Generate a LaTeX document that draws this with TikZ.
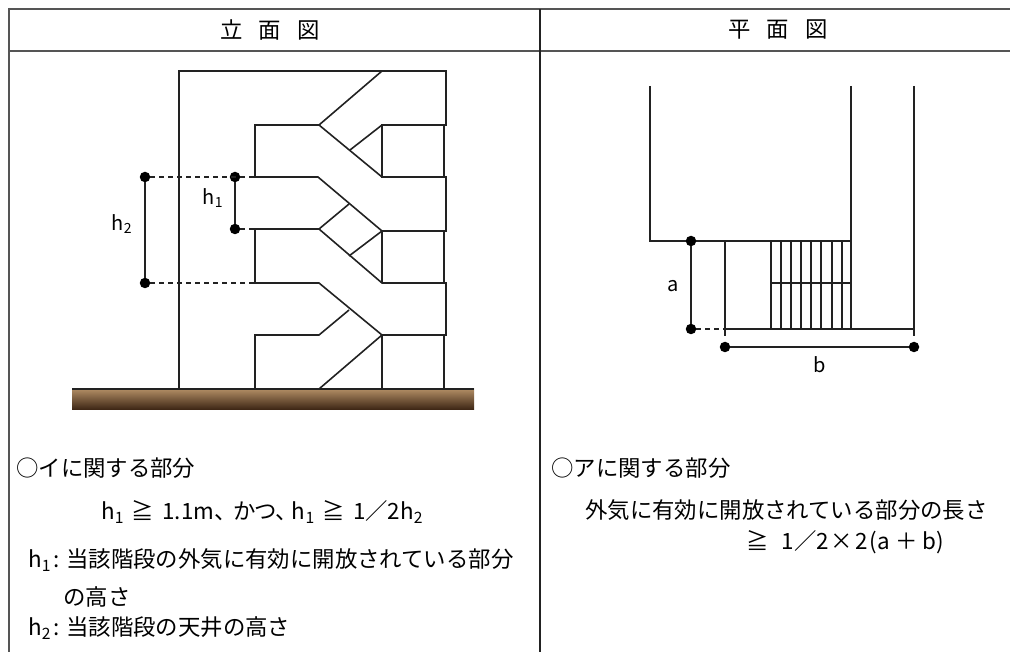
\documentclass[tikz,border=0pt]{standalone}
\usepackage{fontspec}
\setmainfont{Noto Sans CJK JP}
\usetikzlibrary{positioning,calc}
\definecolor{rulegrey}{HTML}{555555}
\definecolor{inkline}{HTML}{222222}
\definecolor{soiltop}{HTML}{B08C64}
\definecolor{soilbot}{HTML}{3A2312}
\tikzset{
  rule/.style={draw=rulegrey,line width=2.4pt},
  wall/.style={draw=inkline,line width=1.6pt},
  dim/.style={draw=inkline,line width=1.6pt},
  dimdash/.style={draw=inkline,line width=1.3pt,dash pattern=on 5pt off 4pt},
  dot/.style={circle,fill=black,inner sep=0pt,minimum size=10.5pt},
  txt/.style={inner sep=0pt,text=black,font=\fontsize{22.4}{26}\selectfont},
  lbl/.style={txt,font=\fontsize{20}{24}\selectfont},
}
\begin{document}
\begin{tikzpicture}[x=1pt,y=-1pt]
 \useasboundingbox (0,0) rectangle (1010,652);
 % table
 \draw[rule] (9,9)--(1010,9);
 \draw[rule] (9,51)--(1010,51);
 \draw[rule] (9,8)--(9,652);
 \draw[wall] (540,9)--(540,652);
 \node[txt] (headl) at (270,30) {立\hspace{16pt}面\hspace{16pt}図};
 \node[txt] (headr) at (778,30) {平\hspace{16pt}面\hspace{16pt}図};
 % ground
 \fill[top color=soiltop,bottom color=soilbot] (72,389) rectangle (474,410);
 \draw[wall] (72,389)--(474,389);
 % elevation
 \draw[wall] (179,389)--(179,71)--(446,71)--(446,125)--(382,125)--(382,177)--(444,177)--(444,125);
 \draw[wall] (382,71)--(319,125)--(255,125)--(255,177)--(318,177)--(382,231)--(446,231)--(446,177)--(444,177);
 \draw[wall] (319,125)--(382,177);
 \draw[wall] (382,125)--(350,150);
 \draw[wall] (349,204)--(319,229)--(255,229)--(255,283)--(319,283)--(382,335)--(446,335)--(446,283)--(382,283)--(319,229);
 \draw[wall] (382,231)--(382,283);
 \draw[wall] (349,256)--(382,231);
 \draw[wall] (444,231)--(444,283);
 \draw[wall] (349,310)--(319,335)--(255,335)--(255,389);
 \draw[wall] (382,335)--(382,389);
 \draw[wall] (382,335)--(319,389);
 \draw[wall] (444,335)--(444,389);
 % heights
 \node[dot] (h2top) at (145,177) {};
 \node[dot] (h2bot) at (145,283) {};
 \node[dot] (h1top) at (235,177) {};
 \node[dot] (h1bot) at (235,229) {};
 \coordinate (wallA) at (255,177);
 \coordinate (wallB) at (255,229);
 \coordinate (wallC) at (255,283);
 \draw[dim] (h2top)--(h2bot);
 \draw[dim] (h1top)--(h1bot);
 \draw[dimdash] (h2top)--(wallA);
 \draw[dimdash] (h1bot)--(wallB);
 \draw[dimdash] (h2bot)--(wallC);
 \node[lbl] (hone) at (213,198) {h\textsubscript{1}};
 \node[lbl] (htwo) at (122,224) {h\textsubscript{2}};
 % plan
 \draw[wall] (650,86)--(650,241)--(851,241);
 \draw[wall] (851,86)--(851,329);
 \draw[wall] (914,86)--(914,336);
 \draw[wall] (725,241)--(725,336);
 \draw[wall] (725,329)--(914,329);
 \draw[wall] (771,241)--(771,329);
 \draw[wall] (781,241)--(781,329);
 \draw[wall] (791,241)--(791,329);
 \draw[wall] (801,241)--(801,329);
 \draw[wall] (811,241)--(811,329);
 \draw[wall] (821,241)--(821,329);
 \draw[wall] (832,241)--(832,329);
 \draw[wall] (842,241)--(842,329);
 \draw[wall] (771,283)--(851,283);
 \node[dot] (atop) at (691,241) {};
 \node[dot] (abot) at (691,329) {};
 \node[dot] (bleft) at (725,347) {};
 \node[dot] (bright) at (914,347) {};
 \coordinate (edgeA) at (725,329);
 \draw[dim] (atop)--(abot);
 \draw[dim] (bleft)--(bright);
 \draw[dimdash] (abot)--(edgeA);
 \node[lbl] (alen) at (673,286) {a};
 \node[lbl] (blen) at (820,365) {b};
 % notes
 \node[txt,anchor=west] (noteA) at (16,468) {○イに関する部分};
 \node[txt,anchor=west] (ruleA) at (101,512) {h\textsubscript{1}\hspace{8pt}≧\hspace{8pt}1.1m、\hspace{-3pt}か\hspace{-2pt}つ、\hspace{-6pt}h\textsubscript{1}\hspace{8pt}≧\hspace{8pt}1／2h\textsubscript{2}};
 \node[txt,anchor=west] (defA) at (28,560) {h\textsubscript{1}\hspace{3pt}:\hspace{6pt}当該階段の外気に有効に開放されている部分};
 \node[txt,anchor=west] (defB) at (63,597) {の高さ};
 \node[txt,anchor=west] (defC) at (28,628) {h\textsubscript{2}\hspace{3pt}:\hspace{6pt}当該階段の天井の高さ};
 \node[txt,anchor=west] (noteB) at (551,468) {○アに関する部分};
 \node[txt,anchor=west] (ruleB) at (585,510) {外気に有効に開放されている部分の長さ};
 \node[txt,anchor=west] (ruleC) at (746,542) {≧\hspace{13pt}1／2\hspace{2pt}×\hspace{2pt}2\hspace{2pt}(a\hspace{6pt}＋\hspace{4pt}b)};
\end{tikzpicture}
\end{document}
